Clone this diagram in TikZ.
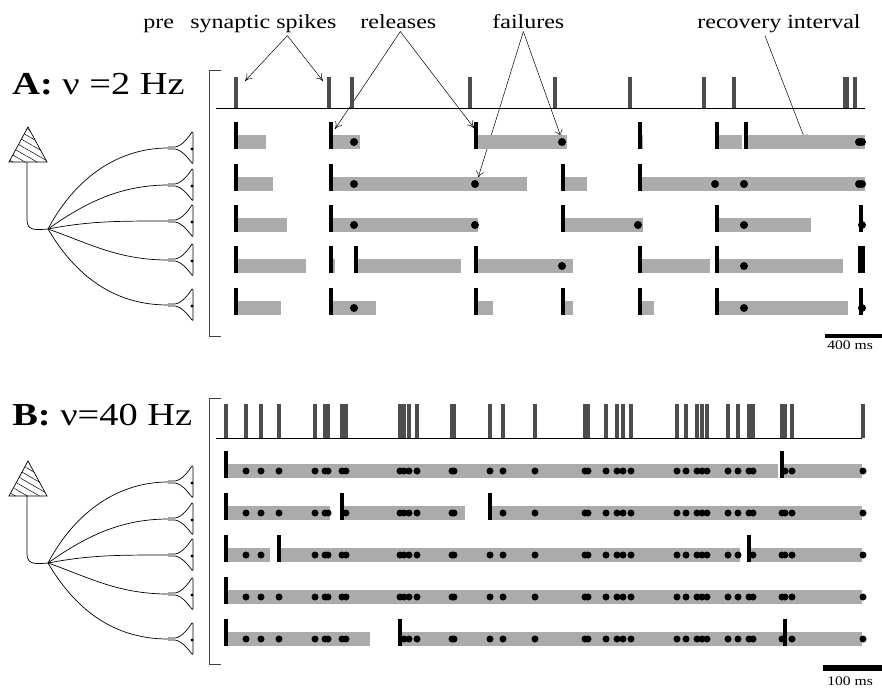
\documentclass[tikz,border=0pt]{standalone}
\usepackage{fontspec}
\setmainfont{Liberation Serif}
\usepackage{graphicx}
\usetikzlibrary{arrows.meta,patterns.meta,calc}

\definecolor{spikegray}{HTML}{4D4D4D}
\definecolor{recovgray}{HTML}{ABABAB}

% text of the figure is set a bit wide
\newcommand\wide[1]{\scalebox{1.2}[1]{#1}}

\tikzset{
  spike/.style={spikegray, line width=4pt},
  release/.style={black, line width=4pt},
  recov/.style={fill=recovgray},
  bracket/.style={black!75, line width=0.8pt},
  lbl/.style={inner sep=0pt, anchor=base west, font=\fontsize{20}{24}\selectfont},
  head/.style={inner sep=0pt, anchor=base west, font=\fontsize{32}{36}\selectfont},
  scalelbl/.style={inner sep=0pt, anchor=base west, font=\fontsize{13}{15}\selectfont},
  bouton/.pic={
    \draw (0,-1) -- (7,-1) .. controls (14,-2) and (20,-10) .. (24,-16)
      .. controls (25.5,-17) and (25,-12) .. (25,-8) -- (25,8)
      .. controls (25,12) and (25.5,17) .. (24,15)
      .. controls (20,10) and (14,2) .. (7,1) -- (0,1);
    \fill (24,1) circle (1.6);
  },
  neuron/.pic={
    % soma
    \draw[pattern={Lines[angle=-30,distance=6pt,line width=0.5pt]}]
      (28,127) -- (47,162) -- (9,162) -- cycle;
    % axon and its branches
    \draw (27,162) -- (27,220) .. controls (27,231) and (36,230) .. (48,229);
    \foreach \y/\cx/\cy in {148/75/178, 185/82/205, 221/90/221, 260/88/243, 305/78/280}
      \draw (48,229) .. controls (\cx,\cy) and (118,\y) .. (168,\y) pic {bouton};
  }
}

% one row: bars, releases, failures
\newcommand\synrow[4]{%
  \foreach \a/\b in {#2} \fill[recov] (\a,#1-7) rectangle (\b,#1+7);
  \foreach \r in {#3} \draw[release] (\r,#1-20) -- (\r,#1+7);
  \foreach \d in {#4} \fill (\d,#1) circle (4);
}

% 40 Hz train
\def\spikesB{226,246,261,279,315,325,328,342,346,400,404,409,417,452,454,490,503,535,585,588,606,617,623,631,677,686,697,702,707,728,738,749,753,782,785,792,863}

% one row of the 40 Hz panel: every spike that is not released fails
\newcommand\burstrow[3]{%
  \foreach \a/\b in {#2} \fill[recov] (\a,#1-7) rectangle (\b,#1+7);
  \foreach \s in \spikesB {%
    \gdef\hit{0}%
    \foreach \r in {#3} {\ifnum\s=\r\relax\gdef\hit{1}\fi}%
    \ifnum\hit=0 \fill (\s,#1) circle (3.5);\fi}
  \foreach \r in {#3} \draw[release] (\r,#1-20) -- (\r,#1+7);
}

\begin{document}
\begin{tikzpicture}[x=1pt, y=-1pt, line width=0.7pt, >={To[length=7pt,width=8pt]}]
\useasboundingbox (0,0) rectangle (882,688);

% Labels on top
\node[lbl] (pre) at (143,28) {\wide{pre}};
\node[lbl] (syn) at (190,28) {\wide{synaptic spikes}};
\node[lbl] (rel) at (360,28) {\wide{releases}};
\node[lbl] (fail) at (492,28) {\wide{failures}};
\node[lbl] (recov) at (697,28) {\wide{recovery interval}};

\coordinate (synA) at (245,81);
\coordinate (synB) at (323,81);
\coordinate (relA) at (335,129);
\coordinate (relB) at (474,128);
\coordinate (failA) at (561,137);
\coordinate (failB) at (478,178);
\coordinate (recA) at (806,142);

\draw[->, line width=0.5pt] ($(syn.south)+(24,3)$) -- (synA);
\draw[->, line width=0.5pt] ($(syn.south)+(24,3)$) -- (synB);
\draw[->, line width=0.5pt] ($(rel.south)+(2,3)$) -- (relA);
\draw[->, line width=0.5pt] ($(rel.south)+(2,3)$) -- (relB);
\draw[->, line width=0.5pt] ($(fail.south)+(-5,3)$) -- (failA);
\draw[->, line width=0.5pt] ($(fail.south)+(-5,3)$) -- (failB);
\draw[->, line width=0.5pt] ($(recov.south)+(-14,3)$) -- (recA);

%%%% A: 2 Hz
\node[head] (headA) at (12,94) {\wide{\textbf{A:} ν =2 Hz}};
\pic at (0,0) {neuron};
\draw[bracket] (221,70) -- (209,70) -- (209,336) -- (221,336);

% The spike train
\foreach \s in {236,329,352,470,555,630,704,734,845,847,855}
  \draw[spike] (\s,77) -- (\s,108);
\draw (216,108) -- (865,108);

% The synapses
\synrow{142}{236/266,331/360,476/567,640/643,717/742,746/865}{236,331,476,640,717,746}{354,562,859,862}
\synrow{184}{236/273,331/527,563/587,640/865}{236,331,563,640}{354,475,715,744,859,862}
\synrow{225}{236/287,331/478,563/643,717/811}{236,331,563,717,861}{354,475,638,744,862}
\synrow{266}{236/306,331/335,356/461,476/573,640/710,717/843}{236,331,356,476,640,717,860,863}{562,744}
\synrow{308}{236/281,331/376,476/493,563/573,640/654,717/848}{236,331,476,563,640,717,861}{354,744,862}

% Scale
\fill (825,334) rectangle (882,338);
\node[scalelbl] (scA) at (827,349) {\wide{400 ms}};

%%%% B: 40 Hz
\node[head] (headB) at (12,425) {\wide{\textbf{B:} ν=40 Hz}};
\pic at (0,334) {neuron};
\draw[bracket] (221,398) -- (209,398) -- (209,664) -- (221,664);

% The spike train
\foreach \s in \spikesB
  \draw[spike] (\s,404) -- (\s,438);
\draw (216,438) -- (862,438);

% The synapses
\burstrow{471}{226/778,782/862}{226,782}
\burstrow{513}{226/330,342/465,490/862}{226,342,490}
\burstrow{555}{226/270,279/740,749/862}{226,279,749}
\burstrow{597}{226/862}{226}
\burstrow{639}{226/370,400/785,785/862}{226,400,785}

% Scale
\fill (823,665) rectangle (882,671);
\node[scalelbl] (scB) at (827,685) {\wide{100 ms}};

\end{tikzpicture}
\end{document}
